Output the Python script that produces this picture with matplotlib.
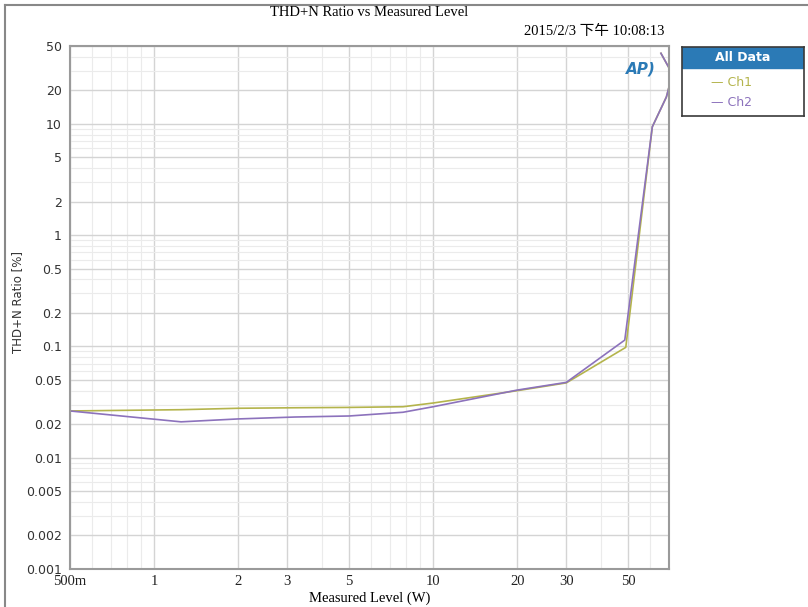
import numpy as np
import matplotlib
matplotlib.use('Agg')
import matplotlib.pyplot as plt
from matplotlib.ticker import FixedLocator, NullFormatter
from matplotlib.patches import Rectangle


# --- data ---
ch1_w   = [0.5, 1.25, 2.0, 3.2, 5.0, 7.8, 10.0, 20.0, 30.0, 49.0, 61.0, 68.5, 72.0, 65.5]
ch1_pct = [0.0263, 0.0270, 0.0278, 0.0281, 0.0283, 0.0287, 0.031, 0.040, 0.047, 0.098, 9.4, 17.4, 28.0, 43.0]

ch2_w   = [0.5, 1.25, 2.0, 3.2, 5.0, 7.8, 10.0, 20.0, 30.0, 48.6, 61.0, 68.5, 72.0, 65.5]
ch2_pct = [0.0263, 0.021, 0.0223, 0.0232, 0.0237, 0.0256, 0.0287, 0.0405, 0.0475, 0.114, 9.4, 17.4, 28.0, 43.0]

x_ticks = [0.5, 1, 2, 3, 5, 10, 20, 30, 50]
x_labels = ['500m', '1', '2', '3', '5', '10', '20', '30', '50']
x_minor = [0.6, 0.7, 0.8, 0.9, 4, 6, 7, 8, 9, 40, 60, 70]

y_ticks = [0.001, 0.002, 0.005, 0.01, 0.02, 0.05, 0.1, 0.2, 0.5, 1, 2, 5, 10, 20, 50]
y_labels = ['0.001', '0.002', '0.005', '0.01', '0.02', '0.05', '0.1', '0.2', '0.5',
            '1', '2', '5', '10', '20', '50']
y_minor = [m * d for d in [0.001, 0.01, 0.1, 1, 10] for m in [3, 4, 6, 7, 8, 9] if m * d < 50]

c_ch1 = '#b4b44c'
c_ch2 = '#8c72bc'
c_head = '#2b7ab6'

W, H = 808, 607
fig = plt.figure(figsize=(W / 100, H / 100), dpi=100)

def px(x, y):
    return x / W, 1 - y / H

# outer frame of the screenshot
fig.add_artist(plt.Line2D([5 / W, 5 / W], [0, 1 - 5 / H], color='#888888', lw=1.5))
fig.add_artist(plt.Line2D([5 / W, 1], [1 - 5 / H, 1 - 5 / H], color='#888888', lw=1.5))

l, r, t, b = 70, 669, 46, 569
ax = fig.add_axes([l / W, 1 - b / H, (r - l) / W, (b - t) / H])
ax.set_xscale('log')
ax.set_yscale('log')

ax.plot(ch1_w, ch1_pct, color=c_ch1, lw=1.2)
ax.plot(ch2_w, ch2_pct, color=c_ch2, lw=1.2)

ax.set_xlim(0.5, 70)
ax.set_ylim(0.001, 50)

ax.xaxis.set_major_locator(FixedLocator(x_ticks))
ax.set_xticklabels(x_labels, family='Liberation Serif', fontsize=10.5, color='#222222')
ax.xaxis.set_minor_locator(FixedLocator(x_minor))
ax.xaxis.set_minor_formatter(NullFormatter())
ax.yaxis.set_major_locator(FixedLocator(y_ticks))
ax.set_yticklabels(y_labels, family='DejaVu Sans', fontsize=9, color='#333333')
ax.yaxis.set_minor_locator(FixedLocator(y_minor))
ax.yaxis.set_minor_formatter(NullFormatter())
ax.tick_params(which='both', length=0)
ax.tick_params(axis='x', pad=4)
ax.tick_params(axis='y', pad=6)

ax.grid(which='major', color='#d4d4d4', lw=1.0)
ax.grid(which='minor', color='#ebebeb', lw=0.8)
ax.set_axisbelow(True)
for s in ax.spines.values():
    s.set_color('#9a9a9a')
    s.set_linewidth(1.5)

ax.set_xlabel('Measured Level (W)', family='Liberation Serif', fontsize=10.5, labelpad=3)
ax.set_ylabel('THD+N Ratio [%]', family='DejaVu Sans', fontsize=8.5, color='#333333')
ax.yaxis.set_label_coords(-0.077, 0.51)

# title and timestamp
fig.text(*px(369, 12), 'THD+N Ratio vs Measured Level', family='Liberation Serif',
         fontsize=10.5, ha='center', va='center')
fig.text(*px(665, 31), '2015/2/3 下午 10:08:13', family=['Liberation Serif', 'Noto Sans CJK SC'],
         fontsize=10.5, ha='right', va='center')

# AP logo
fig.text(*px(641, 69), 'AP)', color=c_head, fontsize=11, fontweight='bold', style='italic',
         ha='center', va='center')

# legend box
lg = fig.add_axes([682 / W, 1 - 116 / H, (804 - 682) / W, (116 - 47) / H])
lg.set_xlim(0, 1)
lg.set_ylim(0, 1)
lg.set_xticks([])
lg.set_yticks([])
for s in lg.spines.values():
    s.set_color('#3a3a3a')
    s.set_linewidth(1.2)
lg.add_patch(Rectangle((0, 0.69), 1, 0.31, color=c_head))
lg.text(0.5, 0.845, 'All Data', color='white', fontweight='bold', fontsize=9,
        ha='center', va='center')
lg.text(0.24, 0.49, '— Ch1', color=c_ch1, fontsize=9, ha='left', va='center')
lg.text(0.24, 0.20, '— Ch2', color=c_ch2, fontsize=9, ha='left', va='center')

fig.savefig('out.png', dpi=100)
